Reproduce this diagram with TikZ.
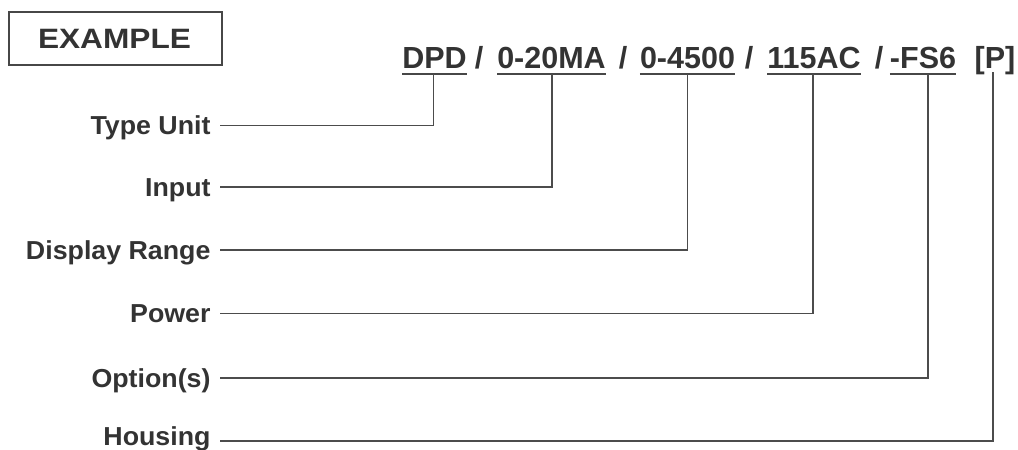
\documentclass[tikz,border=0pt]{standalone}
\usepackage{fontspec}
\setmainfont{Liberation Sans}
\begin{document}
\begin{tikzpicture}[x=1pt,y=-1pt,
  ink/.style={draw=black!72,line width=1.8pt},
  code/.style={font=\fontsize{30.5}{30}\selectfont\bfseries,text=black!80,inner sep=0pt,anchor=base,text depth=0pt},
  lbl/.style={font=\fontsize{26}{26}\selectfont\bfseries,text=black!80,anchor=east,inner xsep=9pt,inner ysep=0pt,text height=18.5pt,text depth=0pt,xscale=1.03},
  conn/.style={draw=black!70,line width=1.7pt}]
\useasboundingbox (0,0) rectangle (1018,450);
% example box
\node[draw=black!72,line width=2pt,minimum width=213pt,minimum height=53pt,inner sep=0pt] (box) at (115.5,38.5) {};
\node[font=\fontsize{28}{28}\selectfont\bfseries,text=black!80,inner sep=0pt,text height=20pt,text depth=0pt,xscale=1.13] (ex) at ([xshift=-1pt]box.center) {EXAMPLE};
% code line
\node[code] (dpd) at (434.5,68) {DPD};
\node[code] (s1) at (479,68) {/};
\node[code] (ma) at (551.5,68) {0-20MA};
\node[code] (s2) at (623,68) {/};
\node[code] (rng) at (687.5,68) {0-4500};
\node[code] (s3) at (749,68) {/};
\node[code] (pw) at (814,68) {115AC};
\node[code] (s4) at (879,68) {/};
\node[code] (fs) at (923,68) {-FS6};
\node[code] (hp) at (995,68) {[P]};
% underlines
\foreach \n in {dpd,ma,rng,pw,fs}{
  \draw[ink] ([yshift=-5.5pt]\n.south west) -- ([yshift=-5.5pt]\n.south east);
}
% labels
\node[lbl] (l1) at (220,125.5) {Type Unit};
\node[lbl] (l2) at (220,187) {Input};
\node[lbl] (l3) at (220,250) {Display Range};
\node[lbl] (l4) at (220,313.5) {Power};
\node[lbl] (l5) at (220,378) {Option(s)};
\node[lbl] (l6) at (220,436.5) {Housing};
% connectors
\draw[conn] (l1.east) -| ([xshift=-1pt,yshift=-5.5pt]dpd.south);
\draw[conn] (l2.east) -| ([xshift=0.5pt,yshift=-5.5pt]ma.south);
\draw[conn] (l3.east) -| ([yshift=-5.5pt]rng.south);
\draw[conn] (l4.east) -| ([xshift=-1pt,yshift=-5.5pt]pw.south);
\draw[conn] (l5.east) -| ([xshift=5pt,yshift=-5.5pt]fs.south);
\draw[conn] ([yshift=-4.5pt]l6.east) -| ([xshift=-2pt,yshift=-4pt]hp.south);
\end{tikzpicture}
\end{document}
